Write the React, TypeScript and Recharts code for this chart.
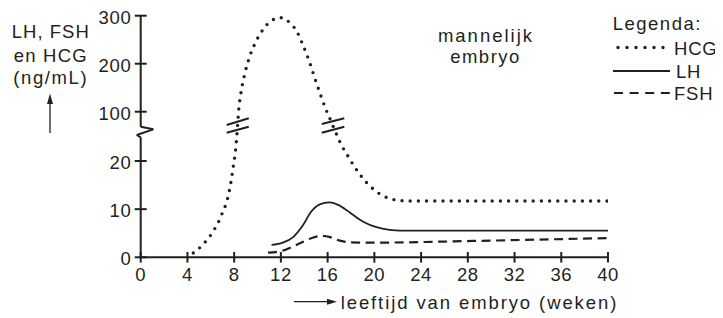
import React from "react";
import { LineChart, Line, XAxis, YAxis, ReferenceLine } from "recharts";

// ---- data (weeks, ng/mL) ----
const hcgWeeks = [4.5, 5.1, 5.6, 6.05, 6.4, 6.75, 7.0, 7.3, 7.55, 7.75, 7.95, 8.1, 8.22, 8.4, 8.6, 8.9, 9.3, 9.8, 10.5, 11.0, 11.95, 12.9, 13.35, 13.9, 14.4, 14.9, 15.4, 15.85, 16.1, 16.9, 17.2, 17.6, 18.3, 18.8, 19.3, 19.9, 20.5, 21.2, 22.0, 23.0, 40.0];
const hcgValues = [0.9, 2.1, 3.4, 4.8, 6.2, 7.8, 9.3, 11.1, 13.4, 16.0, 19.3, 21.8, 25.0, 106, 142, 178, 213, 243, 272, 286, 296, 282, 268, 238, 207, 170, 135, 105, 91, 24.8, 23.2, 21.6, 18.8, 17.1, 15.6, 14.2, 13.1, 12.3, 11.85, 11.7, 11.7];

const lhWeeks = [11.2, 12.17, 13.05, 13.9, 14.6, 15.33, 16.13, 16.9, 17.9, 19.05, 20.18, 21.3, 22.2, 40.0];
const lhValues = [2.56, 3.05, 4.2, 6.7, 9.5, 11.0, 11.4, 10.9, 9.3, 7.4, 6.25, 5.7, 5.55, 5.55];

const fshWeeks = [10.9, 12.05, 13.33, 14.6, 15.47, 16.2, 17.05, 17.9, 19.9, 28.5, 40.0];
const fshValues = [0.96, 1.3, 2.56, 3.95, 4.45, 4.2, 3.46, 3.1, 3.05, 3.4, 4.0];

const xTicks = [0, 4, 8, 12, 16, 20, 24, 28, 32, 36, 40];
const yTickValues = [0, 10, 20, 100, 200, 300];

// ---- broken axis transform (lower 0..26 linear, upper 60..300 compressed) ----
const LOW_TOP = 26;
const HIGH_BOTTOM = 60;
const T100 = 30.24;
const UPPER_RATE = 0.0997;
const upper = (v: number) => T100 + (v - 100) * UPPER_RATE;
const toT = (v: number) => {
  if (v <= LOW_TOP) return v;
  if (v >= HIGH_BOTTOM) return upper(v);
  return LOW_TOP + ((v - LOW_TOP) / (HIGH_BOTTOM - LOW_TOP)) * (upper(HIGH_BOTTOM) - LOW_TOP);
};
const Y_MAX = toT(300);
const yTicksT = yTickValues.map(toT);

const build = (w: number[], v: number[]) => w.map((x, i) => ({ w: x, v: v[i], t: toT(v[i]) }));
const hcgData = build(hcgWeeks, hcgValues);
const lhData = build(lhWeeks, lhValues);
const fshData = build(fshWeeks, fshValues);

// axis break (zigzag) and "//" marks, in axis units (weeks, transformed value)
const yAxisPath = [
  [0, Y_MAX],
  [0, 27.12],
  [1.08, 26.58],
  [-0.34, 25.4],
  [0, 24.92],
  [0, 0],
];
const breakMarks = [
  [[7.36, 27.48], [9.25, 28.87]],
  [[7.36, 25.88], [9.25, 27.12]],
  [[15.5, 27.68], [17.43, 28.87]],
  [[15.5, 25.88], [17.43, 27.12]],
];

const INK = "#231f20";
const FONT = "'Liberation Sans', Arial, Helvetica, sans-serif";

const XTick = (props: any) => {
  const { x, y, payload } = props;
  return (
    <g>
      <line x1={x} x2={x} y1={y - 5.3} y2={y + 5.3} stroke={INK} strokeWidth={2} />
      <text x={x} y={y + 23.4} textAnchor="middle" fontSize={18.5} fontFamily={FONT} fill={INK} letterSpacing={0.5}>
        {payload.value}
      </text>
    </g>
  );
};

const YTick = (props: any) => {
  const { x, y, payload } = props;
  let idx = 0;
  yTicksT.forEach((t, i) => {
    if (Math.abs(t - payload.value) < Math.abs(yTicksT[idx] - payload.value)) idx = i;
  });
  return (
    <g>
      <line x1={x - 6} x2={x + 6} y1={y} y2={y} stroke={INK} strokeWidth={2} />
      <text x={x - 9.3} y={y + 7.8} textAnchor="end" fontSize={18.5} fontFamily={FONT} fill={INK} letterSpacing={0.7}>
        {yTickValues[idx]}
      </text>
    </g>
  );
};

export default function App() {
  const txt = { fontFamily: FONT, fontSize: 18.5, fill: INK } as const;
  return (
    <div style={{ position: "relative", width: 715, height: 310 }}>
      <LineChart width={715} height={310} margin={{ top: 7.7, right: 115, bottom: 30.7, left: 0 }}>
        <XAxis
          dataKey="w"
          type="number"
          domain={[0, 40]}
          ticks={xTicks}
          interval={0}
          allowDataOverflow
          height={30}
          axisLine={{ stroke: INK, strokeWidth: 2 }}
          tickLine={false}
          tickSize={0}
          tickMargin={0}
          tick={<XTick />}
        />
        <YAxis
          dataKey="t"
          type="number"
          domain={[0, Y_MAX]}
          ticks={yTicksT}
          interval={0}
          allowDataOverflow
          width={132.7}
          axisLine={false}
          tickLine={false}
          tickSize={0}
          tickMargin={0}
          tick={<YTick />}
        />
        {yAxisPath.slice(1).map((p, i) => (
          <ReferenceLine
            key={"ax" + i}
            segment={[
              { x: yAxisPath[i][0], y: yAxisPath[i][1] },
              { x: p[0], y: p[1] },
            ]}
            stroke={INK}
            strokeWidth={2}
            ifOverflow="visible"
          />
        ))}
        <Line data={fshData} dataKey="t" type="monotone" stroke={INK} strokeWidth={2.2} strokeDasharray="9 5.5" dot={false} isAnimationActive={false} />
        <Line data={lhData} dataKey="t" type="monotone" stroke={INK} strokeWidth={1.8} dot={false} isAnimationActive={false} />
        <Line data={hcgData} dataKey="t" type="monotone" stroke={INK} strokeWidth={3.4} strokeDasharray="0 8.2" strokeLinecap="round" dot={false} isAnimationActive={false} />
        {breakMarks.map((s, i) => (
          <ReferenceLine
            key={"bm" + i}
            segment={[
              { x: s[0][0], y: s[0][1] },
              { x: s[1][0], y: s[1][1] },
            ]}
            stroke={INK}
            strokeWidth={2}
            ifOverflow="visible"
          />
        ))}
      </LineChart>
      <svg width={715} height={310} style={{ position: "absolute", left: 0, top: 0, pointerEvents: "none" }}>
        <text x={42.8} y={30} textAnchor="middle" {...txt} letterSpacing={1.0}>LH, FSH</text>
        <text x={42.8} y={53.7} textAnchor="middle" {...txt} letterSpacing={1.2}>en HCG</text>
        <text x={42.8} y={76} textAnchor="middle" {...txt} letterSpacing={1.6}>(ng/mL)</text>
        <line x1={42} x2={42} y1={125} y2={92} stroke={INK} strokeWidth={1.3} />
        <polygon points="42,85.5 39,96 45,96" fill={INK} />

        <text x={478} y={33.7} textAnchor="middle" {...txt} letterSpacing={2.0}>mannelijk</text>
        <text x={477.5} y={55.3} textAnchor="middle" {...txt} letterSpacing={1.5}>embryo</text>

        <text x={604.7} y={21.5} {...txt} letterSpacing={1.5}>Legenda:</text>
        <line x1={610} x2={664} y1={39.5} y2={39.5} stroke={INK} strokeWidth={3.4} strokeDasharray="0 9" strokeLinecap="round" />
        <text x={666} y={46.5} {...txt} letterSpacing={0.8}>HCG</text>
        <line x1={605} x2={662} y1={63} y2={63} stroke={INK} strokeWidth={1.8} />
        <text x={668} y={69.5} {...txt} letterSpacing={0.8}>LH</text>
        <line x1={606} x2={662} y1={85} y2={85} stroke={INK} strokeWidth={2.2} strokeDasharray="9 6.6" />
        <text x={666} y={91.5} {...txt} letterSpacing={0.8}>FSH</text>

        <line x1={286} x2={322} y1={293.7} y2={293.7} stroke={INK} strokeWidth={1.3} />
        <polygon points="329,293.7 319,290.7 319,296.7" fill={INK} />
        <text x={332.7} y={301.3} {...txt} letterSpacing={1.9}>leeftijd van embryo (weken)</text>
      </svg>
    </div>
  );
}
